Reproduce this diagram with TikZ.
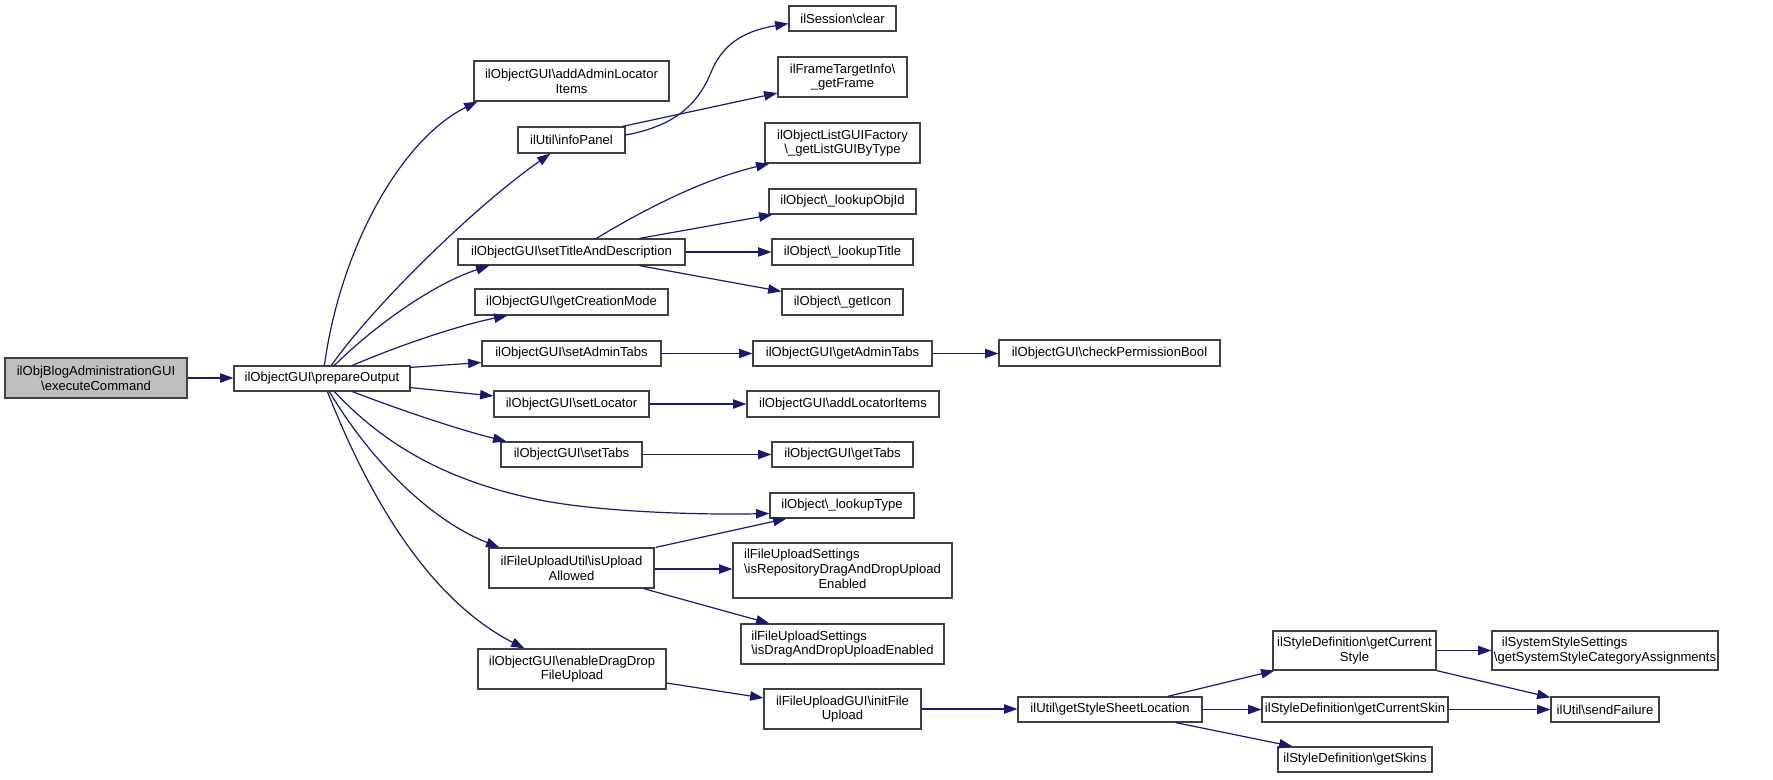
\documentclass[tikz,border=0pt]{standalone}
\usepackage{fontspec}
\setmainfont{Liberation Sans}
\usetikzlibrary{arrows.meta,calc}
\definecolor{edgec}{HTML}{191970}
\definecolor{boxc}{HTML}{404040}
\definecolor{grayfill}{HTML}{BFBFBF}
\newcommand\bx[7][]{\node[box,#1,minimum width={(#5-#3)*0.75pt},minimum height={(#6-#4)*0.75pt}] (#2) at ({(#3+#5)/2},{(#4+#6)/2}) {#7};}
\newcommand\bs{\textbackslash}
\tikzset{
  box/.style={draw=boxc,line width=0.9pt,fill=white,inner sep=0pt,align=center,font=\fontsize{9.8}{11}\selectfont},
  edge/.style={draw=edgec,line width=0.9pt,-{Triangle[length=10pt,width=7pt]}},
}
\begin{document}
\begin{tikzpicture}[x=0.75pt,y=-0.75pt]
\useasboundingbox (0,0) rectangle (1773,779);
% nodes
\bx[fill=grayfill]{exec}{5}{358}{187}{398}{ilObjBlogAdministrationGUI\\\bs executeCommand}
\bx{po}{234}{366}{410}{391}{ilObjectGUI\bs prepareOutput}
\bx{aal}{474}{61}{669}{101}{ilObjectGUI\bs addAdminLocator\\Items}
\bx{ip}{518}{127}{625}{153}{ilUtil\bs infoPanel}
\bx{tad}{458}{239}{685}{265}{ilObjectGUI\bs setTitleAndDescription}
\bx{gcm}{475}{289}{668}{315}{ilObjectGUI\bs getCreationMode}
\bx{sat}{482}{341}{661}{366}{ilObjectGUI\bs setAdminTabs}
\bx{sl}{494}{391}{649}{417}{ilObjectGUI\bs setLocator}
\bx{st}{501}{442}{642}{467}{ilObjectGUI\bs setTabs}
\bx{iua}{489}{548}{654}{588}{ilFileUploadUtil\bs isUpload\\Allowed}
\bx{edd}{478}{649}{666}{689}{ilObjectGUI\bs enableDragDrop\\FileUpload}
\bx{sc}{789}{6}{896}{31}{ilSession\bs clear}
\bx{ftf}{778}{57}{907}{97}{ilFrameTargetInfo\bs\\\_getFrame}
\bx{lgf}{765}{123}{920}{163}{ilObjectListGUIFactory\\\bs\_getListGUIByType}
\bx{loi}{769}{189}{916}{214}{ilObject\bs\_lookupObjId}
\bx{lt}{772}{239}{913}{265}{ilObject\bs\_lookupTitle}
\bx{gi}{782}{289}{903}{315}{ilObject\bs\_getIcon}
\bx{gat}{753}{341}{932}{366}{ilObjectGUI\bs getAdminTabs}
\bx{ali}{747}{391}{939}{417}{ilObjectGUI\bs addLocatorItems}
\bx{gt}{772}{442}{913}{467}{ilObjectGUI\bs getTabs}
\bx{lty}{770}{493}{914}{518}{ilObject\bs\_lookupType}
\bx{rdd}{733}{543}{952}{598}{\begin{tabular}{@{}l@{}}ilFileUploadSettings\\\bs isRepositoryDragAndDropUpload\\\multicolumn{1}{@{}c@{}}{Enabled}\end{tabular}}
\bx[align=left]{dde}{741}{624}{944}{664}{ilFileUploadSettings\\\bs isDragAndDropUploadEnabled}
\bx{ifu}{764}{689}{921}{729}{ilFileUploadGUI\bs initFile\\Upload}
\bx{cpb}{999}{340}{1220}{366}{ilObjectGUI\bs checkPermissionBool}
\bx{ssl}{1018}{697}{1202}{722}{ilUtil\bs getStyleSheetLocation}
\bx{gcs}{1273}{631}{1436}{670}{ilStyleDefinition\bs getCurrent\\Style}
\bx{gsk}{1262}{697}{1448}{722}{ilStyleDefinition\bs getCurrentSkin}
\bx{gs}{1278}{747}{1432}{772}{ilStyleDefinition\bs getSkins}
\bx[align=left]{sss}{1492}{631}{1718}{670}{\hspace*{6pt}ilSystemStyleSettings\\\bs getSystemStyleCategoryAssignments}
\bx{sf}{1551}{697}{1659}{722}{ilUtil\bs sendFailure}
% edges
\draw[edge] (exec.east) -- (exec.east -| po.west);
\draw[edge] ($(po.north west)+(91,0)$) .. controls (340,250) and (400,140) .. ($(aal.south west)+(4,0)$);
\draw[edge] ($(po.north west)+(98,0)$) .. controls (370,310) and (470,210) .. ($(ip.south west)+(33,0)$);
\draw[edge] ($(po.north west)+(101,0)$) .. controls (370,330) and (430,285) .. ($(tad.south west)+(32,0)$);
\draw[edge] ($(po.north west)+(119,0)$) .. controls (400,345) and (460,325) .. ($(gcm.south west)+(33,0)$);
\draw[edge] ($(po.north east)+(0,2)$) -- ($(sat.west)+(0,9)$);
\draw[edge] ($(po.south east)+(0,-4)$) -- ($(sl.west)+(0,-8)$);
\draw[edge] ($(po.south west)+(119,0)$) .. controls (400,410) and (460,430) .. ($(st.north west)+(6,0)$);
\draw[edge] ($(po.south west)+(101,0)$) .. controls (380,440) and (440,480) .. (540,500) .. controls (600,512) and (700,515) .. ($(lty.west)+(0,8)$);
\draw[edge] ($(po.south west)+(96,0)$) .. controls (370,460) and (430,520) .. ($(iua.north west)+(11,0)$);
\draw[edge] ($(po.south west)+(94,0)$) .. controls (370,500) and (430,600) .. ($(edd.north west)+(47,0)$);
\draw[edge] ($(ip.east)+(0,-5)$) .. controls (680,125) and (700,100) .. (712,70) .. controls (725,40) and (750,30) .. ($(sc.west)+(0,5)$);
\draw[edge] ($(ip.north east)+(-3,0)$) -- ($(ftf.west)+(0,16)$);
\draw[edge] ($(tad.north west)+(139,0)$) .. controls (640,212) and (700,180) .. ($(lgf.south west)+(5,0)$);
\draw[edge] ($(tad.north west)+(182,0)$) -- ($(loi.south west)+(4,0)$);
\draw[edge] (tad.east) -- (tad.east -| lt.west);
\draw[edge] ($(tad.south west)+(182,0)$) -- ($(gi.north west)+(0,3)$);
\draw[edge] (sat.east) -- (sat.east -| gat.west);
\draw[edge] (gat.east) -- (gat.east -| cpb.west);
\draw[edge] (sl.east) -- (sl.east -| ali.west);
\draw[edge] (st.east) -- (st.east -| gt.west);
\draw[edge] ($(iua.north east)+(1,0)$) -- ($(lty.south west)+(17,0)$);
\draw[edge] ($(iua.east)+(0,1)$) -- ($(iua.east -| rdd.west)+(0,1)$);
\draw[edge] ($(iua.south east)+(-11,0)$) -- ($(dde.north west)+(29,0)$);
\draw[edge] ($(edd.east)+(0,14)$) -- ($(ifu.west)+(0,-11)$);
\draw[edge] (ifu.east) -- (ifu.east -| ssl.west);
\draw[edge] ($(ssl.north east)+(-35,0)$) -- ($(gcs.south west)+(2,0)$);
\draw[edge] (ssl.east) -- (ssl.east -| gsk.west);
\draw[edge] ($(ssl.south east)+(-27,0)$) -- ($(gs.north west)+(15,0)$);
\draw[edge] (gcs.east) -- (gcs.east -| sss.west);
\draw[edge] (gcs.south east) -- ($(sf.north west)+(0,1)$);
\draw[edge] (gsk.east) -- (gsk.east -| sf.west);
\end{tikzpicture}
\end{document}
